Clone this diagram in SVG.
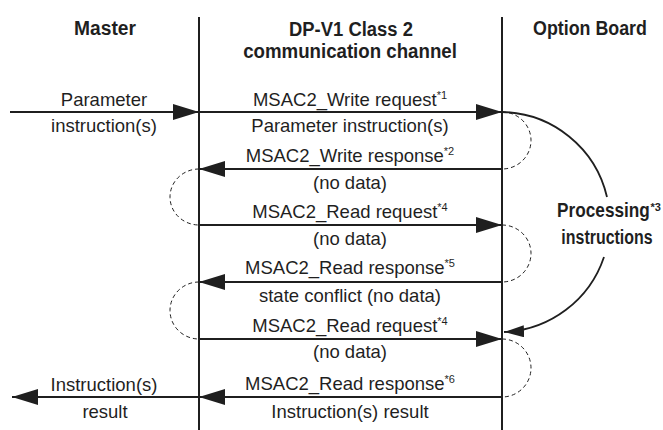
<svg xmlns="http://www.w3.org/2000/svg" width="663" height="430" viewBox="0 0 663 430">
<style>
.hd{font-family:"Liberation Sans",Arial,sans-serif;font-weight:bold;font-size:21px;fill:#1f1f1f;text-anchor:middle}
.tx{font-family:"Liberation Sans",Arial,sans-serif;font-size:18.5px;fill:#1f1f1f;text-anchor:middle}
.sup{font-size:11px}
.hsup{font-family:"Liberation Sans",Arial,sans-serif;font-weight:bold;font-size:11px;fill:#1f1f1f}
.life{stroke:#1f1f1f;stroke-width:2;fill:none}
.msg{stroke:#1f1f1f;stroke-width:1.8;fill:none;marker-end:url(#ah)}
.dash{stroke:#1f1f1f;stroke-width:1;fill:none;stroke-dasharray:4 3}
.proc{stroke:#1f1f1f;stroke-width:1.8;fill:none}
</style>
<defs>
<marker id="ah" markerUnits="userSpaceOnUse" markerWidth="26" markerHeight="16" refX="26" refY="8" orient="auto">
<path d="M0,0 L26,8 L0,16 Z" fill="#1f1f1f"/>
</marker>
<marker id="ahs" markerUnits="userSpaceOnUse" markerWidth="20" markerHeight="12" refX="20" refY="6" orient="auto">
<path d="M0,0 L20,6 L0,12 Z" fill="#1f1f1f"/>
</marker>
</defs>
<rect width="663" height="430" fill="#ffffff"/>
<g id="master">
<text class="hd" transform="translate(105,35) scale(0.916,1)">Master</text>
</g>
<g id="channel">
<text class="hd" transform="translate(351,36) scale(0.878,1)">DP-V1 Class 2</text>
<text class="hd" transform="translate(350,58) scale(0.89,1)">communication channel</text>
<line class="life" x1="199" y1="17" x2="199" y2="430"/>
</g>
<g id="option-board">
<text class="hd" transform="translate(590,35) scale(0.85,1)">Option Board</text>
<line class="life" x1="502" y1="17" x2="502" y2="430"/>
</g>
<g id="processing">
<text class="hd" transform="translate(603.5,217) scale(0.82,1)">Processing</text>
<text class="hsup" x="650.5" y="211">*3</text>
<text class="hd" transform="translate(607,244) scale(0.76,1)">instructions</text>
</g>
<g id="connectors">
<path class="msg" d="M10,112 H199"/>
<path class="msg" d="M199,112 H502"/>
<path class="msg" d="M502,169 H199"/>
<path class="msg" d="M199,225 H502"/>
<path class="msg" d="M502,282 H199"/>
<path class="msg" d="M199,339 H502"/>
<path class="msg" d="M502,397 H199"/>
<path class="msg" d="M199,397 H12"/>
<path class="dash" d="M502,112 A29,28.5 0 0 1 502,169"/>
<path class="dash" d="M199,169 A29,28 0 0 0 199,225"/>
<path class="dash" d="M502,225 A29,28.5 0 0 1 502,282"/>
<path class="dash" d="M199,282 A29,28.5 0 0 0 199,339"/>
<path class="dash" d="M502,339 A29,29 0 0 1 502,397"/>
<path class="proc" d="M502,112 A110,110 0 0 1 607,197"/>
<path class="proc" d="M604,257 A110,110 0 0 1 504,332" marker-end="url(#ahs)"/>
</g>
<g id="labels">
<text class="tx" x="104" y="106">Parameter</text>
<text class="tx" x="104" y="132">instruction(s)</text>
<text class="tx" x="104" y="391">Instruction(s)</text>
<text class="tx" x="105" y="418">result</text>
<text class="tx" x="350" y="106">MSAC2_Write request<tspan class="sup" dy="-7">*1</tspan></text>
<text class="tx" x="350" y="132">Parameter instruction(s)</text>
<text class="tx" x="350" y="162">MSAC2_Write response<tspan class="sup" dy="-7">*2</tspan></text>
<text class="tx" x="350" y="189">(no data)</text>
<text class="tx" x="350" y="218">MSAC2_Read request<tspan class="sup" dy="-7">*4</tspan></text>
<text class="tx" x="350" y="245">(no data)</text>
<text class="tx" x="350" y="274">MSAC2_Read response<tspan class="sup" dy="-7">*5</tspan></text>
<text class="tx" x="350" y="302">state conflict (no data)</text>
<text class="tx" x="350" y="332">MSAC2_Read request<tspan class="sup" dy="-7">*4</tspan></text>
<text class="tx" x="350" y="358">(no data)</text>
<text class="tx" x="350" y="390">MSAC2_Read response<tspan class="sup" dy="-7">*6</tspan></text>
<text class="tx" x="350" y="418">Instruction(s) result</text>
</g>
</svg>
